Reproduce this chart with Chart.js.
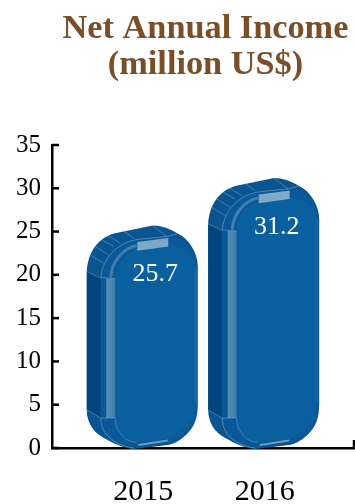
<!DOCTYPE html>
<html>
<head>
<meta charset="utf-8">
<title>Net Annual Income</title>
<script src="https://cdn.jsdelivr.net/npm/chart.js@4"></script>
<style>
  html, body { margin: 0; padding: 0; background: #fff; }
  canvas { display: block; }
</style>
</head>
<body>
<canvas id="chart" width="355" height="504"></canvas>
<script>
var years = [2015, 2016];
var income = [25.7, 31.2];
var yTicks = [0, 5, 10, 15, 20, 25, 30, 35];
var titleLines = ['Net Annual Income', '(million US$)'];

var SERIF = '"Liberation Serif", serif';
var FACE = '#0a5f9f';

function tracePath(ctx, pts) {
    // each entry is [x, y] or a bezier [c1x, c1y, c2x, c2y, x, y]
    ctx.beginPath();
    pts.forEach(function(p, i) {
        if (i === 0) ctx.moveTo(p[0], p[1]);
        else if (p.length === 2) ctx.lineTo(p[0], p[1]);
        else ctx.bezierCurveTo(p[0], p[1], p[2], p[3], p[4], p[5]);
    });
}

function fillPath(ctx, pts, color) {
    tracePath(ctx, pts);
    ctx.closePath();
    ctx.fillStyle = color;
    ctx.fill();
}

function strokePath(ctx, pts, color, width) {
    tracePath(ctx, pts);
    ctx.strokeStyle = color;
    ctx.lineWidth = width;
    ctx.stroke();
}

// rounded 3D block, laid out from the bar element's left, top and base
function drawBlock(ctx, bar) {
    var L = bar.x - bar.width / 2 - 0.5, T = bar.y, B = bar.base;
    function t(dx, dy) { return [L + dx, T + dy]; }
    function b(dx, dy) { return [L + dx, B + dy]; }
    function cb(a, c, d) { return a.concat(c, d); }

    var outline = [
        t(0, 46),
        cb(t(1, 30), t(8, 14), t(27, 8)),
        t(66, 0),
        cb(t(76, 0), t(84, 4), t(91, 8)),
        cb(t(103, 14), t(111, 28), t(111, 41)),
        b(111, -45),
        cb(b(111, -30), b(108, -22), b(100, -14)),
        cb(b(95, -9), b(88, -4), b(81, -3)),
        b(47, 1),
        cb(b(36, 0), b(26, -5), b(17, -10)),
        cb(b(6, -16), b(0, -26), b(0, -38))
    ];
    var rim = [
        t(14, 52),
        cb(t(16, 32), t(30, 18), t(50, 14)),
        t(80, 11),
        cb(t(88, 11), t(92, 13), t(97, 16)),
        cb(t(105, 22), t(110, 30), t(110, 41)),
        b(110, -45),
        cb(b(110, -31), b(107, -21), b(99, -13)),
        cb(b(94, -9), b(88, -5), b(81, -4)),
        b(47, 0),
        cb(b(36, -1), b(26, -6), b(19, -14)),
        cb(b(16, -18), b(14, -24), b(14, -30))
    ];
    var face = [
        t(28.5, 53),
        cb(t(29, 40), t(38, 26), t(51, 24)),
        t(81, 20),
        cb(t(86, 20), t(91, 21), t(96, 23)),
        cb(t(104, 28), t(109, 34), t(109, 41)),
        b(109, -45),
        cb(b(109, -33), b(106, -27), b(98, -20)),
        cb(b(93, -15), b(87, -10), b(80, -9)),
        b(50, -6),
        cb(b(44, -6), b(38, -8), b(34, -14)),
        cb(b(30, -19), b(28.5, -24), b(28.5, -30))
    ];

    // back of the block: dark flank, lighter shoulder and foot
    fillPath(ctx, outline, '#0a5490');
    fillPath(ctx, [t(0, 46), t(14, 52), b(14, -30), b(0, -38)], '#00467c');

    fillPath(ctx, rim, '#0a5897');

    // light strip down the left of the face
    var strip = ctx.createLinearGradient(L + 19, 0, L + 28.5, 0);
    strip.addColorStop(0, '#5b8eb5');
    strip.addColorStop(1, '#3f7dab');
    ctx.fillStyle = strip;
    ctx.fillRect(L + 19.5, T + 53, 9, B - T - 83);

    // soft highlight curving round the top left corner
    strokePath(ctx, [t(24, 52), cb(t(25, 36), t(36, 23), t(50, 20))], '#3f7fae', 3);

    fillPath(ctx, face, FACE);

    // pale bands across the top and foot of the rim
    fillPath(ctx, [t(50.5, 16.5), t(81.5, 12.5), t(81.5, 21), t(50.5, 25.3)], '#7fa9c9');
    fillPath(ctx, [b(51.5, -4), b(81, -8.5), b(81, -6.5), b(51.5, -2)], '#6f9bbd');

    // thin facet lines on the shoulder and edges
    var LINE = 'rgba(160,195,220,0.55)';
    var facets = [
        [t(0, 46), t(14, 52.7)],
        [t(3.5, 29.3), t(16.8, 37.7)],
        [t(8.5, 21), t(21.8, 29.3)],
        [t(15.2, 14.3), t(26.8, 21)],
        [t(20.2, 9.3), t(33.5, 17.7)],
        [t(35.2, 4.3), t(46.8, 12.7)],
        [t(65.2, 0), t(80.2, 11)],
        [t(80.2, 11), t(90.2, 8.3)],
        [b(0, -38), b(14, -30)],
        [b(14, -30), b(28.5, -30)],
        [t(14, 52), t(28.5, 53)]
    ];
    facets.forEach(function(f) { strokePath(ctx, f, LINE, 0.7); });
    strokePath(ctx, rim.slice(0, 3), LINE, 0.8);
    strokePath(ctx, [b(14, -30), cb(b(14, -24), b(16, -18), b(19, -14)), cb(b(26, -6), b(36, -1), b(47, 0))], LINE, 0.8);
    strokePath(ctx, [b(28.5, -30), cb(b(28.5, -24), b(30, -19), b(34, -14)), cb(b(38, -8), b(44, -6), b(50, -6))], LINE, 0.7);
    strokePath(ctx, [t(109, 41), b(109, -45)], 'rgba(110,160,200,0.5)', 0.7);
}

var blockBars = {
    id: 'blockBars',
    beforeDatasetsDraw: function(chart) {
        // inward ticks on the value axis, plus the closing tick on the right
        var ctx = chart.ctx, y = chart.scales.y, area = chart.chartArea;
        ctx.save();
        ctx.strokeStyle = '#000';
        ctx.lineWidth = 2.5;
        yTicks.forEach(function(v) {
            var py = y.getPixelForValue(v);
            ctx.beginPath();
            ctx.moveTo(area.left, py);
            ctx.lineTo(area.left + 7, py);
            ctx.stroke();
        });
        ctx.beginPath();
        ctx.moveTo(area.right - 1, area.bottom);
        ctx.lineTo(area.right - 1, area.bottom - 8);
        ctx.stroke();
        ctx.restore();
    },
    beforeDatasetDraw: function(chart, args) {
        var ctx = chart.ctx;
        ctx.save();
        args.meta.data.forEach(function(bar, i) {
            drawBlock(ctx, bar);
            ctx.fillStyle = '#fff';
            ctx.font = '26px ' + SERIF;
            ctx.textAlign = 'center';
            ctx.textBaseline = 'middle';
            ctx.fillText(income[i].toFixed(1), bar.x + 12, bar.y + 49);
        });
        ctx.restore();
        return false; // block replaces the flat rectangle
    },
    afterDraw: function(chart) {
        var ctx = chart.ctx;
        ctx.save();
        ctx.fillStyle = '#7a4e28';
        ctx.font = 'bold 34.3px ' + SERIF;
        ctx.textAlign = 'center';
        ctx.textBaseline = 'middle';
        titleLines.forEach(function(line, i) {
            ctx.fillText(line, 205.5, 29 + i * 36);
        });
        ctx.restore();
    }
};

var myChart = new Chart(document.getElementById('chart').getContext('2d'), {
    type: 'bar',
    data: {
        datasets: [{
            data: years.map(function(yr, i) { return { x: yr, y: income[i] }; }),
            backgroundColor: FACE,
            barThickness: 112
        }]
    },
    options: {
        responsive: false,
        animation: false,
        events: [],
        layout: { padding: { top: 145 } },
        plugins: {
            legend: { display: false },
            tooltip: { enabled: false },
            title: { display: false }
        },
        scales: {
            x: {
                type: 'linear',
                offset: false,
                min: 2014.248,
                max: 2016.744,
                afterFit: function(scale) { scale.height = 56; },
                afterBuildTicks: function(scale) {
                    scale.ticks = years.map(function(v) { return { value: v }; });
                },
                grid: { display: false, drawTicks: false },
                border: { color: '#000', width: 2.5 },
                ticks: {
                    color: '#000',
                    padding: 26,
                    maxRotation: 0,
                    font: { family: SERIF, size: 30 },
                    callback: function(v) { return String(v); }
                }
            },
            y: {
                min: 0,
                max: 35,
                afterFit: function(scale) { scale.width = 52; },
                afterBuildTicks: function(scale) {
                    scale.ticks = yTicks.map(function(v) { return { value: v }; });
                },
                grid: { display: false, drawTicks: false },
                border: { color: '#000', width: 2.5 },
                ticks: {
                    color: '#000',
                    padding: 11,
                    font: { family: SERIF, size: 25 }
                }
            }
        }
    },
    plugins: [blockBars]
});
</script>
</body>
</html>
